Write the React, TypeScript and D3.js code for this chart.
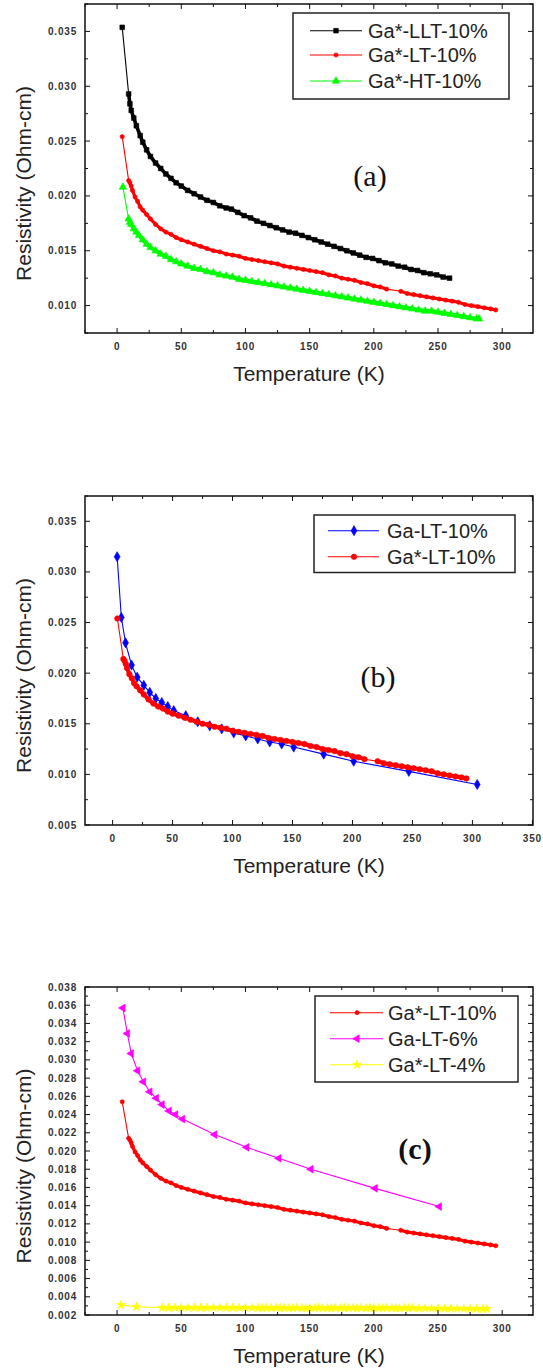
import React from "react";
import * as d3 from "d3";

// ---------- DATA (Temperature K, Resistivity Ohm-cm) ----------
const GA_STAR_LLT_10: [number, number][] = [
  [4, 0.03537], [9, 0.0293], [10, 0.0284], [11, 0.0278], [13, 0.0271], [15, 0.0264],
  [18, 0.0255], [20, 0.0249], [23, 0.0242], [26, 0.0236], [30, 0.023], [34, 0.0225],
  [38, 0.022], [42, 0.0216], [46, 0.0212], [50, 0.0209], [55, 0.0205], [60, 0.0202],
  [65, 0.0199], [70, 0.0196], [75, 0.0194], [80, 0.0191], [85, 0.0189], [89, 0.0188],
  [94, 0.0185], [99, 0.0182], [104, 0.018], [109, 0.0177], [114, 0.0175], [119, 0.0173],
  [124, 0.0171], [129, 0.0169], [134, 0.0167], [139, 0.0166], [144, 0.0164], [149, 0.0162],
  [154, 0.016], [159, 0.0158], [164, 0.0156], [169, 0.0154], [174, 0.0152], [179, 0.015],
  [184, 0.0148], [189, 0.0146], [194, 0.0144], [199, 0.0143], [204, 0.0141], [209, 0.0139],
  [214, 0.0138], [219, 0.0136], [224, 0.0135], [229, 0.0133], [234, 0.0132], [239, 0.013],
  [244, 0.0129], [249, 0.0128], [254, 0.0126], [259, 0.0125],
];

const GA_STAR_LT_10: [number, number][] = [
  [4, 0.0254], [9, 0.0214], [10, 0.0212], [11, 0.0209], [12, 0.0205], [14, 0.0199],
  [16, 0.0195], [18, 0.019], [20, 0.0187], [23, 0.0183], [26, 0.0179], [30, 0.0174],
  [34, 0.017], [38, 0.0167], [42, 0.0165], [46, 0.0162], [50, 0.016], [55, 0.0158],
  [60, 0.0156], [65, 0.0154], [70, 0.0152], [75, 0.015], [80, 0.0149], [85, 0.0147],
  [90, 0.0146], [95, 0.0145], [100, 0.0143], [105, 0.0142], [110, 0.0141], [115, 0.014],
  [120, 0.0139], [125, 0.0138], [130, 0.0136], [135, 0.0135], [140, 0.0134], [145, 0.0133],
  [150, 0.0132], [155, 0.0131], [160, 0.013], [165, 0.0128], [170, 0.0127], [175, 0.0125],
  [180, 0.0124], [185, 0.0123], [190, 0.0121], [195, 0.012], [200, 0.0118], [205, 0.0117],
  [210, 0.0115], [221, 0.0113], [226, 0.0111], [231, 0.011], [236, 0.0109], [241, 0.0108],
  [246, 0.0107], [251, 0.0106], [256, 0.0105], [261, 0.0104], [266, 0.0103], [271, 0.0101],
  [276, 0.01], [281, 0.0099], [286, 0.0098], [291, 0.0097], [295, 0.0096],
];

const GA_STAR_HT_10: [number, number][] = [
  [4.5, 0.0208], [9, 0.0179], [10, 0.0176], [11, 0.0174], [13, 0.017], [15, 0.0167],
  [17, 0.0164], [20, 0.016], [23, 0.0156], [26, 0.0153], [30, 0.015], [34, 0.0147],
  [38, 0.0145], [42, 0.0142], [46, 0.014], [50, 0.0138], [55, 0.0136], [60, 0.0134],
  [65, 0.0133], [70, 0.0131], [75, 0.013], [80, 0.0128], [85, 0.0127], [90, 0.0126],
  [95, 0.0124], [100, 0.0123], [105, 0.0122], [110, 0.0121], [115, 0.012], [120, 0.0119],
  [125, 0.0118], [130, 0.0117], [135, 0.0116], [140, 0.0115], [145, 0.0114], [150, 0.0113],
  [155, 0.0112], [160, 0.0111], [165, 0.011], [170, 0.0109], [175, 0.0108], [180, 0.0107],
  [185, 0.0106], [190, 0.0105], [195, 0.0104], [200, 0.0103], [205, 0.0102], [210, 0.0101],
  [215, 0.01], [220, 0.0099], [225, 0.0098], [230, 0.0097], [235, 0.0096], [240, 0.0095],
  [245, 0.0095], [250, 0.0094], [255, 0.0093], [260, 0.0092], [265, 0.0091], [270, 0.009],
  [275, 0.0089], [280, 0.0088], [282, 0.0088],
];

const GA_LT_10: [number, number][] = [
  [3.8, 0.0315], [7.3, 0.0255], [10.8, 0.023], [15.8, 0.0208], [20.5, 0.0196], [26, 0.0188],
  [31, 0.0181], [36, 0.0175], [41, 0.0171], [46, 0.0167], [51, 0.0163], [61, 0.0158],
  [71, 0.0152], [81, 0.0148], [91, 0.0145], [101, 0.0141], [111, 0.0138], [121, 0.0135],
  [131, 0.0132], [141, 0.013], [151, 0.0127], [176, 0.012], [201, 0.0113], [247, 0.0103],
  [304, 0.009],
];

const GA_LT_6: [number, number][] = [
  [4.5, 0.0357], [8, 0.0329], [11, 0.0307], [16, 0.0288], [20.5, 0.0276], [25.5, 0.0265],
  [30.5, 0.0258], [35, 0.0251], [40.5, 0.0244], [45.5, 0.024], [51, 0.0235], [76, 0.0218],
  [101, 0.0204], [126, 0.0192], [151, 0.018], [201, 0.0159], [251, 0.0139],
];

const GA_STAR_LT_4: [number, number][] = [
  [3, 0.0031], [15, 0.0029], [35, 0.0028], [40, 0.0028], [45, 0.0028], [50, 0.0028],
  [55, 0.0028], [60, 0.0028], [65, 0.0028], [70, 0.0028], [75, 0.0028], [80, 0.0028],
  [85, 0.0028], [90, 0.0028], [95, 0.0028], [100, 0.0028], [105, 0.0028], [110, 0.00278],
  [113, 0.00276], [116, 0.00279], [120, 0.00277], [124, 0.00279], [127, 0.00276], [130, 0.00279],
  [134, 0.00277], [137, 0.00275], [140, 0.00279], [144, 0.00276], [147, 0.00274], [150, 0.00278],
  [154, 0.00275], [157, 0.00279], [160, 0.00274], [164, 0.00278], [167, 0.00275], [170, 0.00279],
  [174, 0.00275], [177, 0.00278], [180, 0.00274], [184, 0.00279], [187, 0.00275], [190, 0.00278],
  [194, 0.00274], [197, 0.0028], [200, 0.00275], [204, 0.00278], [207, 0.00274], [210, 0.00278],
  [214, 0.00275], [217, 0.00278], [220, 0.00274], [224, 0.00277], [227, 0.00274], [230, 0.00277],
  [235, 0.00273], [240, 0.00273], [245, 0.00272], [250, 0.00272], [255, 0.00271], [260, 0.00271],
  [265, 0.0027], [270, 0.0027], [275, 0.00269], [280, 0.00268], [285, 0.00267], [288, 0.00266],
];

const X_TICKS_AC = [0, 50, 100, 150, 200, 250, 300];
const X_TICKS_B = [0, 50, 100, 150, 200, 250, 300, 350];
const Y_TICKS_AB = [0.01, 0.015, 0.02, 0.025, 0.03, 0.035];
const Y_TICKS_B = [0.005, 0.01, 0.015, 0.02, 0.025, 0.03, 0.035];
const Y_TICKS_C = [0.002, 0.004, 0.006, 0.008, 0.01, 0.012, 0.014, 0.016, 0.018, 0.02,
  0.022, 0.024, 0.026, 0.028, 0.03, 0.032, 0.034, 0.036, 0.038];

const X_TITLE = "Temperature (K)";
const Y_TITLE = "Resistivity (Ohm-cm)";

// ---------- RENDERING ----------
type Series = {
  name: string;
  data: [number, number][];
  color: string;
  symbol: d3.SymbolType;
  size: number;
  rotate?: number;
  band?: number; // stroke width for densely-sampled runs
};

type PanelCfg = {
  top: number;
  bottom: number;
  xDomain: [number, number];
  yDomain: [number, number];
  xTicks: number[];
  xMinor: number;
  yTicks: number[];
  yMinor: number;
  series: Series[];
  legend: { x0: number; y0: number; x1: number; y1: number; rows: number[]; l0: number; l1: number; m: number; t: number };
  tag: string;
  tagX: number;
  tagY: number;
  tagBold: boolean;
};

const LEFT = 85;
const RIGHT = 533;
const SANS = "'Liberation Sans', Arial, sans-serif";
const fmt3 = d3.format(".3f");

// split a series into runs of closely spaced samples (gap ≤ maxGap K)
function denseRuns(data: [number, number][], maxGap: number): [number, number][][] {
  const runs: [number, number][][] = [];
  let cur: [number, number][] = [];
  for (let i = 1; i < data.length; i++) {
    if (data[i][0] - data[i - 1][0] <= maxGap) {
      if (cur.length === 0) cur.push(data[i - 1]);
      cur.push(data[i]);
    } else if (cur.length) {
      runs.push(cur);
      cur = [];
    }
  }
  if (cur.length) runs.push(cur);
  return runs;
}

function Marker({ s, x, y }: { s: Series; x: number; y: number }) {
  const p = d3.symbol().type(s.symbol).size(s.size)() as string;
  return (
    <path
      d={p}
      transform={`translate(${x},${y})${s.rotate ? ` rotate(${s.rotate})` : ""}`}
      fill={s.color}
      stroke={s.color}
      strokeWidth={0.6}
    />
  );
}

function Panel({ c }: { c: PanelCfg }) {
  const x = d3.scaleLinear().domain(c.xDomain).range([LEFT, RIGHT]);
  const y = d3.scaleLinear().domain(c.yDomain).range([c.bottom, c.top]);
  const line = d3.line<[number, number]>().x((d) => x(d[0])).y((d) => y(d[1]));
  const xMinor = d3.range(Math.ceil(c.xDomain[0] / c.xMinor) * c.xMinor, c.xDomain[1], c.xMinor)
    .filter((v) => !c.xTicks.some((t) => Math.abs(t - v) < 1e-9));
  const yMinor = d3.range(Math.ceil(c.yDomain[0] / c.yMinor - 1e-6) * c.yMinor, c.yDomain[1] + 1e-9, c.yMinor)
    .filter((v) => !c.yTicks.some((t) => Math.abs(t - v) < 1e-9));
  const cy = (c.top + c.bottom) / 2 + 15;
  return (
    <g>
      {/* series */}
      {c.series.map((s) => (
        <g key={s.name}>
          <path d={line(s.data) as string} fill="none" stroke={s.color} strokeWidth={1.1} />
          {s.band
            ? denseRuns(s.data.slice(1), 6).map((r, k) => (
                <path key={k} d={line(r) as string} fill="none" stroke={s.color} strokeWidth={s.band} strokeLinecap="round" />
              ))
            : null}
          {s.data.map((d, i) => (
            <Marker key={i} s={s} x={x(d[0])} y={y(d[1])} />
          ))}
        </g>
      ))}
      {/* frame */}
      <rect x={LEFT} y={c.top} width={RIGHT - LEFT} height={c.bottom - c.top} fill="none" stroke="#111" strokeWidth={1.5} />
      {/* x ticks */}
      {c.xTicks.map((t) => (
        <g key={"xt" + t}>
          <line x1={x(t)} x2={x(t)} y1={c.bottom} y2={c.bottom - 5} stroke="#111" />
          <line x1={x(t)} x2={x(t)} y1={c.top} y2={c.top + 5} stroke="#111" />
          <text x={x(t)} y={c.bottom + 17} textAnchor="middle" fontFamily={SANS} fontWeight="bold" fontSize={10} letterSpacing={0.8} fill="#333">{t}</text>
        </g>
      ))}
      {xMinor.map((t) => (
        <g key={"xm" + t}>
          <line x1={x(t)} x2={x(t)} y1={c.bottom} y2={c.bottom - 3} stroke="#111" />
          <line x1={x(t)} x2={x(t)} y1={c.top} y2={c.top + 3} stroke="#111" />
        </g>
      ))}
      {/* y ticks */}
      {c.yTicks.map((t) => (
        <g key={"yt" + t}>
          <line x1={LEFT} x2={LEFT + 5} y1={y(t)} y2={y(t)} stroke="#111" />
          <line x1={RIGHT} x2={RIGHT - 5} y1={y(t)} y2={y(t)} stroke="#111" />
          <text x={77} y={y(t) + 3.5} textAnchor="end" fontFamily={SANS} fontWeight="bold" fontSize={10} letterSpacing={0.8} fill="#333">{fmt3(t)}</text>
        </g>
      ))}
      {yMinor.map((t) => (
        <g key={"ym" + t}>
          <line x1={LEFT} x2={LEFT + 3} y1={y(t)} y2={y(t)} stroke="#111" />
          <line x1={RIGHT} x2={RIGHT - 3} y1={y(t)} y2={y(t)} stroke="#111" />
        </g>
      ))}
      {/* titles */}
      <text x={(LEFT + RIGHT) / 2} y={c.bottom + 48} textAnchor="middle" fontFamily={SANS} fontSize={21} fill="#222">{X_TITLE}</text>
      <text transform={`translate(31,${cy}) rotate(-90)`} textAnchor="middle" fontFamily={SANS} fontSize={21} fill="#222">{Y_TITLE}</text>
      {/* legend */}
      <rect x={c.legend.x0} y={c.legend.y0} width={c.legend.x1 - c.legend.x0} height={c.legend.y1 - c.legend.y0} fill="white" stroke="#222" strokeWidth={1.5} />
      {c.series.map((s, i) => (
        <g key={"lg" + s.name}>
          <line x1={c.legend.l0} x2={c.legend.l1} y1={c.legend.rows[i]} y2={c.legend.rows[i]} stroke={s.color} strokeWidth={1.1} />
          <Marker s={s} x={c.legend.m} y={c.legend.rows[i]} />
          <text x={c.legend.t} y={c.legend.rows[i] + 7} fontFamily={SANS} fontSize={20} fill="#222">{s.name}</text>
        </g>
      ))}
      <text x={c.tagX} y={c.tagY} textAnchor="middle" fontFamily="'Liberation Serif', 'Times New Roman', serif" fontSize={30} fontWeight={c.tagBold ? "bold" : "normal"} fill="#111">{c.tag}</text>
    </g>
  );
}

const RED_SMALL: Series = { name: "Ga*-LT-10%", data: GA_STAR_LT_10, color: "#ff0000", symbol: d3.symbolCircle, size: 14, band: 3.2 };

const PANELS: PanelCfg[] = [
  {
    top: 4, bottom: 333, xDomain: [-25, 324], yDomain: [0.0075, 0.0375],
    xTicks: X_TICKS_AC, xMinor: 25, yTicks: Y_TICKS_AB, yMinor: 0.0025,
    series: [
      { name: "Ga*-LLT-10%", data: GA_STAR_LLT_10, color: "#000000", symbol: d3.symbolSquare, size: 22, band: 3.6 },
      RED_SMALL,
      { name: "Ga*-HT-10%", data: GA_STAR_HT_10, color: "#00ff00", symbol: d3.symbolTriangle, size: 24, band: 4 },
    ],
    legend: { x0: 293, y0: 13, x1: 509, y1: 99, rows: [30.7, 55, 81], l0: 310, l1: 362, m: 336, t: 368 },
    tag: "(a)", tagX: 370, tagY: 186, tagBold: false,
  },
  {
    top: 496, bottom: 825, xDomain: [-23, 350.5], yDomain: [0.005, 0.0375],
    xTicks: X_TICKS_B, xMinor: 25, yTicks: Y_TICKS_B, yMinor: 0.0025,
    series: [
      { name: "Ga-LT-10%", data: GA_LT_10, color: "#0000ff", symbol: d3.symbolDiamond, size: 30 },
      { name: "Ga*-LT-10%", data: GA_STAR_LT_10, color: "#ff0000", symbol: d3.symbolCircle, size: 24, band: 4 },
    ],
    legend: { x0: 314, y0: 515, x1: 515, y1: 572.5, rows: [530.7, 556.8], l0: 328, l1: 379, m: 354, t: 387 },
    tag: "(b)", tagX: 378, tagY: 687, tagBold: false,
  },
  {
    top: 987, bottom: 1315, xDomain: [-25, 324], yDomain: [0.002, 0.038],
    xTicks: X_TICKS_AC, xMinor: 25, yTicks: Y_TICKS_C, yMinor: 0.001,
    series: [
      RED_SMALL,
      { name: "Ga-LT-6%", data: GA_LT_6, color: "#ff00ff", symbol: d3.symbolTriangle, size: 26, rotate: -90 },
      { name: "Ga*-LT-4%", data: GA_STAR_LT_4, color: "#ffff00", symbol: d3.symbolStar, size: 24, band: 3 },
    ],
    legend: { x0: 315, y0: 996, x1: 518, y1: 1082, rows: [1012.7, 1038.7, 1064.7], l0: 330, l1: 383, m: 357, t: 388 },
    tag: "(c)", tagX: 415, tagY: 1159, tagBold: true,
  },
];

export default function App() {
  return (
    <svg width={543} height={1368} style={{ position: "absolute", left: 0, top: 0, background: "white" }}>
      <rect x={0} y={0} width={543} height={1368} fill="white" />
      {PANELS.map((c, i) => (
        <Panel key={i} c={c} />
      ))}
    </svg>
  );
}
